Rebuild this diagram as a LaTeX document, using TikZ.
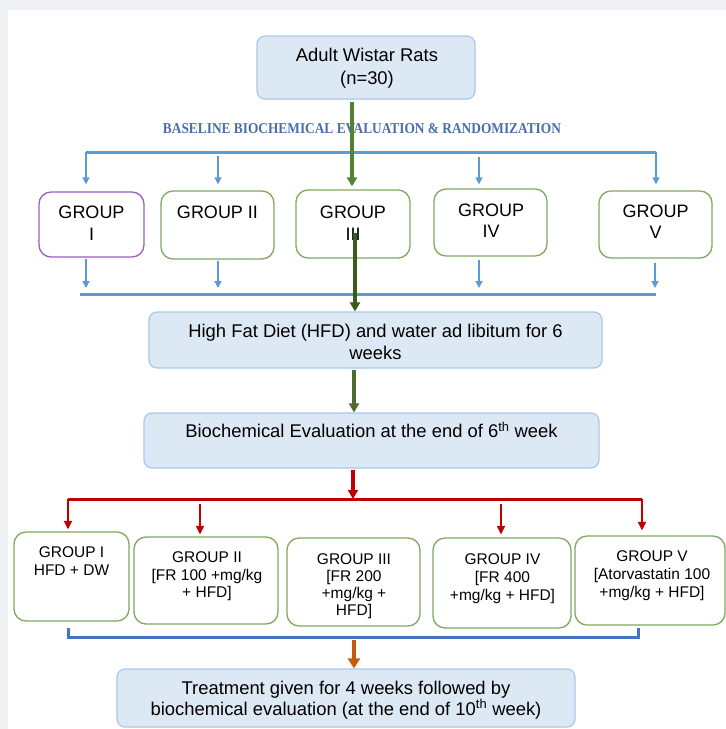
\documentclass[tikz,border=0pt]{standalone}
\usepackage{fontspec}
\usepackage{graphicx}
\setmainfont{Liberation Sans}
\newfontfamily\titlefont{Liberation Serif}
\usetikzlibrary{arrows.meta}
\definecolor{bggrey}{HTML}{EEF0F3}
\definecolor{boxfill}{HTML}{DDE8F5}
\definecolor{boxline}{HTML}{A9C9EC}
\definecolor{grpgreen}{HTML}{82A860}
\definecolor{grppurple}{HTML}{9B5FC0}
\definecolor{lblue}{HTML}{5B9BD5}
\definecolor{dblue}{HTML}{4472C4}
\definecolor{greenA}{HTML}{548235}
\definecolor{greenB}{HTML}{3A5A1E}
\definecolor{greenC}{HTML}{4D6B2E}
\definecolor{redline}{HTML}{C00000}
\definecolor{orangeline}{HTML}{C55A11}
\definecolor{titleblue}{HTML}{4A6EA9}
\begin{document}
\begin{tikzpicture}[x=1pt,y=-1pt,
  bluebox/.style={draw=boxline, fill=boxfill, line width=1.2pt, rounded corners=8pt, inner sep=0pt},
  grpbox/.style={draw=grpgreen, fill=white, line width=1.3pt, rounded corners=12pt, inner sep=0pt},
  bigtxt/.style={anchor=base, inner sep=0pt, font=\fontsize{18.4}{22}\selectfont},
  grptxt/.style={anchor=base, inner sep=0pt, font=\fontsize{18}{22}\selectfont},
  smalltxt/.style={anchor=base, inner sep=0pt, font=\fontsize{15.5}{18}\selectfont},
  busline/.style={line width=3pt},
  thinarrow/.style={line width=1.4pt, -{Triangle[width=7pt,length=7pt]}},
  redthin/.style={line width=1.7pt, -{Triangle[width=8pt,length=8.5pt]}},
  thickarrow/.style={line width=3.5pt, -{Triangle[width=10pt,length=9pt]}},
  orangearrow/.style={line width=4pt, -{Triangle[width=12pt,length=10pt]}}
]
\useasboundingbox (0,0) rectangle (726,729);
\fill[bggrey] (0,0) rectangle (726,729);
\fill[white] (8,10) rectangle (726,729);

% ---------- boxes ----------
\node[bluebox, minimum width=218pt, minimum height=63pt] (top) at (366,67.5) {};
\node[grpbox, draw=grppurple, minimum width=105pt, minimum height=65pt] (g1) at (91.5,224.5) {};
\node[grpbox, minimum width=113pt, minimum height=68pt] (g2) at (217.5,225) {};
\node[grpbox, minimum width=114pt, minimum height=68pt] (g3) at (353,224) {};
\node[grpbox, minimum width=113pt, minimum height=67pt] (g4) at (490.5,222.5) {};
\node[grpbox, minimum width=113pt, minimum height=67pt] (g5) at (655.5,224.5) {};
\node[bluebox, minimum width=453pt, minimum height=56pt] (hfd) at (375.5,340) {};
\node[bluebox, minimum width=455pt, minimum height=55pt] (bio) at (371.5,440.5) {};
\node[grpbox, minimum width=115pt, minimum height=89pt] (b1) at (71.5,576.5) {};
\node[grpbox, minimum width=144pt, minimum height=87pt] (b2) at (206,580.5) {};
\node[grpbox, minimum width=133pt, minimum height=88pt] (b3) at (353.5,582) {};
\node[grpbox, minimum width=138pt, minimum height=90pt] (b4) at (502,583) {};
\node[grpbox, minimum width=150pt, minimum height=89pt] (b5) at (650,580.5) {};
\node[bluebox, minimum width=458pt, minimum height=58pt] (bot) at (346,698) {};

% ---------- texts ----------
\node[bigtxt] (t1a) at (367,61.7) {Adult Wistar Rats};
\node[bigtxt] (t1b) at (367,84) {(n=30)};
\node[anchor=base, inner sep=0pt, text=titleblue] (basel) at (362,133)
  {\resizebox{398pt}{10pt}{\titlefont\bfseries BASELINE BIOCHEMICAL EVALUATION \& RANDOMIZATION}};

\node[grptxt] (g1a) at (91.5,218) {GROUP};
\node[grptxt] (g1b) at (91.5,240) {I};
\node[grptxt] (g2a) at (217.5,218) {GROUP II};
\node[grptxt] (g3a) at (353,218) {GROUP};
\node[grptxt] (g3b) at (353,240) {III};
\node[grptxt] (g4a) at (491,216) {GROUP};
\node[grptxt] (g4b) at (491,237) {IV};
\node[grptxt] (g5a) at (655.5,217) {GROUP};
\node[grptxt] (g5b) at (655.5,238) {V};

\node[bigtxt] (hfda) at (375.5,337.3) {High Fat Diet (HFD) and water ad libitum for 6};
\node[bigtxt] (hfdb) at (375.5,359) {weeks};
\node[bigtxt] (bioa) at (371.5,437.7) {Biochemical Evaluation at the end of 6\textsuperscript{th} week};

\node[smalltxt] (b1a) at (71.5,557.7) {GROUP I};
\node[smalltxt] (b1b) at (71.5,575) {HFD + DW};
\node[smalltxt] (b2a) at (207,562) {GROUP II};
\node[smalltxt] (b2b) at (207,580) {[FR 100 +mg/kg};
\node[smalltxt] (b2c) at (207,597) {+ HFD]};
\node[smalltxt] (b3a) at (354,564) {GROUP III};
\node[smalltxt] (b3b) at (354,581) {[FR 200};
\node[smalltxt] (b3c) at (354,598) {+mg/kg +};
\node[smalltxt] (b3d) at (354,615) {HFD]};
\node[smalltxt] (b4a) at (502.5,564) {GROUP IV};
\node[smalltxt] (b4b) at (502.5,582) {[FR 400};
\node[smalltxt] (b4c) at (502.5,600) {+mg/kg + HFD]};
\node[smalltxt] (b5a) at (652,561) {GROUP V};
\node[smalltxt] (b5b) at (652,579) {[Atorvastatin 100};
\node[smalltxt] (b5c) at (652,597) {+mg/kg + HFD]};

\node[bigtxt] (bota) at (346,694) {Treatment given for 4 weeks followed by};
\node[bigtxt] (botb) at (346,715) {biochemical evaluation (at the end of 10\textsuperscript{th} week)};

% ---------- coordinates ----------
\coordinate (bus1L) at (86,152);
\coordinate (bus1R) at (656,152);
\coordinate (a2s) at (218,156);
\coordinate (a4s) at (479,157);
\coordinate (gx1) at (352,0);
\coordinate (g3in) at (355,233);
\coordinate (gx3) at (354,0);
\coordinate (bus2L) at (80,294);
\coordinate (bus2R) at (656,294);
\coordinate (cx1) at (86,0);
\coordinate (cx2) at (218,0);
\coordinate (cx4) at (479,0);
\coordinate (cx5) at (655,0);
\coordinate (rx) at (353,0);
\coordinate (rbusL) at (68,499);
\coordinate (rbusR) at (642,499);
\coordinate (r2s) at (200,504);
\coordinate (r4s) at (501,504);
\coordinate (brL) at (68,628);
\coordinate (brR) at (638,628);
\coordinate (ostart) at (354,640);

% ---------- top blue bus ----------
\draw[busline, draw=lblue] (bus1L) -- (bus1R);
\draw[thinarrow, draw=lblue, fill=lblue, shorten >=7pt] (bus1L) -- (g1.north -| bus1L);
\draw[thinarrow, draw=lblue, fill=lblue, shorten >=6pt] (a2s) -- (g2.north -| a2s);
\draw[thinarrow, draw=lblue, fill=lblue, shorten >=4pt] (a4s) -- (g4.north -| a4s);
\draw[thinarrow, draw=lblue, fill=lblue, shorten >=6pt] (bus1R) -- (g5.north -| bus1R);

% ---------- lower blue bus ----------
\draw[busline, draw=lblue] (bus2L) -- (bus2R);
\draw[thinarrow, draw=lblue, fill=lblue, shorten <=1pt, shorten >=6pt] (g1.south -| cx1) -- (bus2L -| cx1);
\draw[thinarrow, draw=lblue, fill=lblue, shorten <=1pt, shorten >=6pt] (g2.south -| cx2) -- (bus2L -| cx2);
\draw[thinarrow, draw=lblue, fill=lblue, shorten <=3pt, shorten >=6pt] (g4.south -| cx4) -- (bus2L -| cx4);
\draw[thinarrow, draw=lblue, fill=lblue, shorten <=4pt, shorten >=6pt] (g5.south -| cx5) -- (bus2L -| cx5);

% ---------- green arrows ----------
\draw[thickarrow, draw=greenA, fill=greenA, shorten <=2pt, shorten >=3pt] (top.south -| gx1) -- (g3.north -| gx1);
\draw[thickarrow, draw=greenB, fill=greenB] (g3in) -- (hfd.north -| g3in);
\draw[thickarrow, draw=greenC, fill=greenC, shorten <=1pt] (hfd.south -| gx3) -- (bio.north -| gx3);

% ---------- red ----------
\draw[thickarrow, draw=redline, fill=redline, shorten <=1pt] (bio.south -| rx) -- (rbusL -| rx);
\draw[busline, draw=redline] (rbusL) -- (rbusR);
\draw[redthin, draw=redline, fill=redline, shorten >=2pt] (rbusL) -- (b1.north -| rbusL);
\draw[redthin, draw=redline, fill=redline, shorten >=2pt] (r2s) -- (b2.north -| r2s);
\draw[redthin, draw=redline, fill=redline, shorten >=3pt] (r4s) -- (b4.north -| r4s);
\draw[redthin, draw=redline, fill=redline, shorten >=5pt] (rbusR) -- (b5.north -| rbusR);

% ---------- bracket and orange ----------
\draw[busline, draw=dblue] (brL) -- ++(0,9) -| (brR);
\draw[orangearrow, draw=orangeline, fill=orangeline] (ostart) -- (bot.north -| ostart);
\end{tikzpicture}
\end{document}
